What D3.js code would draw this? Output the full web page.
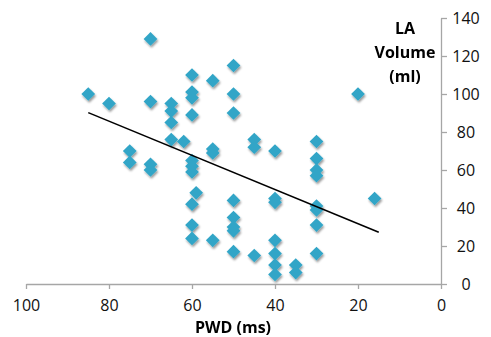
<!DOCTYPE html>
<html>
<head>
<meta charset="utf-8">
<script src="https://cdn.jsdelivr.net/npm/d3@7"></script>
<style>
  body { margin: 0; background: #fff; }
  svg { display: block; font-family: 'Open Sans', sans-serif; }
</style>
</head>
<body>
<div id="chart"></div>
<script>
// PWD (ms) vs LA volume (ml)
const pwd = [85, 80, 75, 75, 70, 70, 70, 70, 65, 65, 65, 65, 62,
  60, 60, 60, 60, 60, 60, 60, 60, 60, 60, 59,
  55, 55, 55, 55, 50, 50, 50, 50, 50, 50, 50, 50,
  45, 45, 45, 40, 40, 40, 40, 40, 40, 40, 35, 35,
  30, 30, 30, 30, 30, 30, 30, 30, 20, 16];
const laVolume = [100, 95, 70, 64, 129, 96, 63, 60, 95, 91, 85, 76, 75,
  110, 101, 98, 89, 65, 62, 59, 42, 31, 24, 48,
  107, 71, 69, 23, 115, 100, 90, 44, 35, 30, 28, 17,
  76, 72, 15, 70, 45, 43, 23, 16, 10, 5, 10, 6,
  75, 66, 60, 57, 41, 39, 31, 16, 100, 45];

// linear trendline endpoints (x, y)
const trendX = [85, 15];
const trendY = [90.2, 27.2];

const xTicks = [100, 80, 60, 40, 20, 0];
const yTicks = [0, 20, 40, 60, 80, 100, 120, 140];

const width = 491, height = 337;
const axisColor = '#a6a6a6';
const markerColor = '#31a5c7';

const svg = d3.select('#chart').append('svg')
  .attr('width', width)
  .attr('height', height);

const defs = svg.append('defs');
const shadow = defs.append('filter')
  .attr('id', 'shadow')
  .attr('x', '-50%').attr('y', '-50%')
  .attr('width', '200%').attr('height', '200%');
shadow.append('feDropShadow')
  .attr('dx', 1)
  .attr('dy', 2)
  .attr('stdDeviation', 1.3)
  .attr('flood-color', '#000')
  .attr('flood-opacity', 0.4);

const x = d3.scaleLinear().domain([100, 0]).range([26, 441]);
const y = d3.scaleLinear().domain([0, 140]).range([284, 18]);

// X axis
const gx = svg.append('g')
  .attr('transform', `translate(0,${y(0)})`)
  .call(d3.axisBottom(x).tickValues(xTicks).tickSize(5).tickSizeOuter(0).tickPadding(11));

// Y axis (on the right)
const gy = svg.append('g')
  .attr('transform', `translate(${x(0)},0)`)
  .call(d3.axisRight(y).tickValues(yTicks).tickSize(6).tickSizeOuter(0));

[gx, gy].forEach(g => {
  g.select('.domain').attr('stroke', axisColor).attr('stroke-width', 1.3);
  g.selectAll('line').attr('stroke', axisColor).attr('stroke-width', 1.3);
  g.selectAll('text')
    .attr('font-family', "'Open Sans', sans-serif")
    .attr('font-size', 16)
    .attr('fill', '#111');
});

gy.selectAll('text')
  .attr('x', 25)
  .attr('text-anchor', 'middle');

// Points
const diamond = d3.symbol().type(d3.symbolDiamond2).size(120);
svg.append('g')
  .attr('filter', 'url(#shadow)')
  .selectAll('path')
  .data(pwd.map((p, i) => ({ p, v: laVolume[i] })))
  .enter()
  .append('path')
  .attr('d', diamond)
  .attr('transform', d => `translate(${x(d.p)},${y(d.v)})`)
  .attr('fill', markerColor);

// Trendline
svg.append('line')
  .attr('x1', x(trendX[0])).attr('y1', y(trendY[0]))
  .attr('x2', x(trendX[1])).attr('y2', y(trendY[1]))
  .attr('stroke', '#000')
  .attr('stroke-width', 1.6);

// Axis titles
svg.append('text')
  .attr('x', 233)
  .attr('y', 333)
  .attr('text-anchor', 'middle')
  .attr('font-size', 16)
  .attr('font-weight', 'bold')
  .text('PWD (ms)');

const yTitle = svg.append('text')
  .attr('text-anchor', 'middle')
  .attr('font-size', 16)
  .attr('font-weight', 'bold');
['LA', 'Volume', '(ml)'].forEach((t, i) => {
  yTitle.append('tspan')
    .attr('x', 405)
    .attr('y', 34 + i * 24)
    .text(t);
});
</script>
</body>
</html>
